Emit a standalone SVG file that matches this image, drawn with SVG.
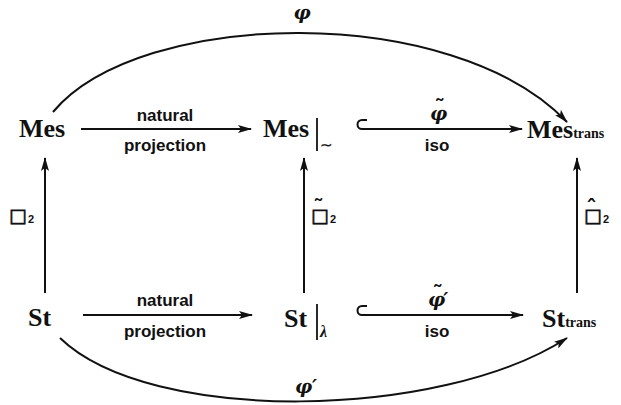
<svg xmlns="http://www.w3.org/2000/svg" width="621" height="405" viewBox="0 0 621 405">
<style>
.node{font-family:"Liberation Serif",serif;font-weight:bold;font-size:26px;fill:#111}
.sub{font-family:"Liberation Serif",serif;font-weight:bold;font-size:14px;fill:#111}
.lbl{font-family:"Liberation Sans",sans-serif;font-weight:bold;font-size:17px;fill:#111;text-anchor:middle}
.greek{font-family:"DejaVu Serif",serif;font-weight:bold;font-style:italic;font-size:19px;fill:#111}
.box{font-family:"DejaVu Sans",sans-serif;font-size:19px;fill:#111;stroke:#111;stroke-width:0.7}
.bsub{font-family:"Liberation Sans",sans-serif;font-weight:bold;font-size:11px;stroke:none}
.acc{font-family:"DejaVu Sans",sans-serif;font-weight:bold;font-size:22px;font-style:normal;stroke:none}
.edge{fill:none;stroke:#111;stroke-width:2}
.bar{stroke:#111;stroke-width:1.8}
</style>
<defs>
<marker id="ah" markerWidth="14" markerHeight="8" refX="13" refY="4" orient="auto" markerUnits="userSpaceOnUse">
<path d="M0,0 L14,4 L0,8 L3,4 z" fill="#111"/>
</marker>
</defs>

<g id="connectors">
<path class="edge" d="M53,112 C140,8 453,2 567,122" marker-end="url(#ah)"/>
<path class="edge" d="M60,338 C150,425 441,420 567,338" marker-end="url(#ah)"/>
<path class="edge" d="M81,129 L251,129" marker-end="url(#ah)"/>
<path class="edge" d="M367,120 L362,120 A4.5,4.5 0 0 0 362,129 L522,129" marker-end="url(#ah)"/>
<path class="edge" d="M83,315 L252,315" marker-end="url(#ah)"/>
<path class="edge" d="M367,306 L362,306 A4.5,4.5 0 0 0 362,315 L523,315" marker-end="url(#ah)"/>
<path class="edge" d="M45,293 L45,158" marker-end="url(#ah)"/>
<path class="edge" d="M304,293 L304,158" marker-end="url(#ah)"/>
<path class="edge" d="M577,293 L577,158" marker-end="url(#ah)"/>

<text class="greek" x="302" y="19" text-anchor="middle">φ</text>
<text class="greek" x="306" y="393" text-anchor="middle">φ′</text>
<text class="lbl" x="165" y="121">natural</text>
<text class="lbl" x="165" y="151">projection</text>
<text class="lbl" x="165" y="306">natural</text>
<text class="lbl" x="165" y="337">projection</text>
<text class="greek" x="430" y="120">φ<tspan class="acc" dx="-13" dy="-5">˜</tspan></text>
<text class="lbl" x="437" y="151">iso</text>
<text class="greek" x="428" y="306">φ<tspan class="acc" dx="-13" dy="-5">˜</tspan><tspan dx="0" dy="5">′</tspan></text>
<text class="lbl" x="437" y="337">iso</text>
<text class="box" x="9" y="222">□<tspan class="bsub" dx="1" dy="1">2</tspan></text>
<text class="box" x="311" y="222">□<tspan class="acc" dx="-16" dy="-7">˜</tspan><tspan class="bsub" dx="6" dy="8">2</tspan></text>
<text class="box" x="584" y="222">□<tspan class="acc" dx="-16" dy="-7">ˆ</tspan><tspan class="bsub" dx="6" dy="8">2</tspan></text>
</g>

<g id="Mes"><text class="node" x="19" y="137">Mes</text></g>
<g id="MesQuot"><text class="node" x="263" y="137">Mes</text><line class="bar" x1="317" y1="118" x2="317" y2="151"/><text class="box" x="320" y="150" style="font-size:15px;stroke-width:0.3">∼</text></g>
<g id="MesTrans"><text class="node" x="527" y="138">Mes<tspan class="sub">trans</tspan></text></g>
<g id="St"><text class="node" x="28" y="326">St</text></g>
<g id="StQuot"><text class="node" x="284" y="327">St</text><line class="bar" x1="317" y1="304" x2="317" y2="340"/><text x="320" y="337" style="font-family:'Liberation Serif',serif;font-style:italic;font-weight:bold;font-size:16px;fill:#111">λ</text></g>
<g id="StTrans"><text class="node" x="542" y="327">St<tspan class="sub">trans</tspan></text></g>
</svg>
